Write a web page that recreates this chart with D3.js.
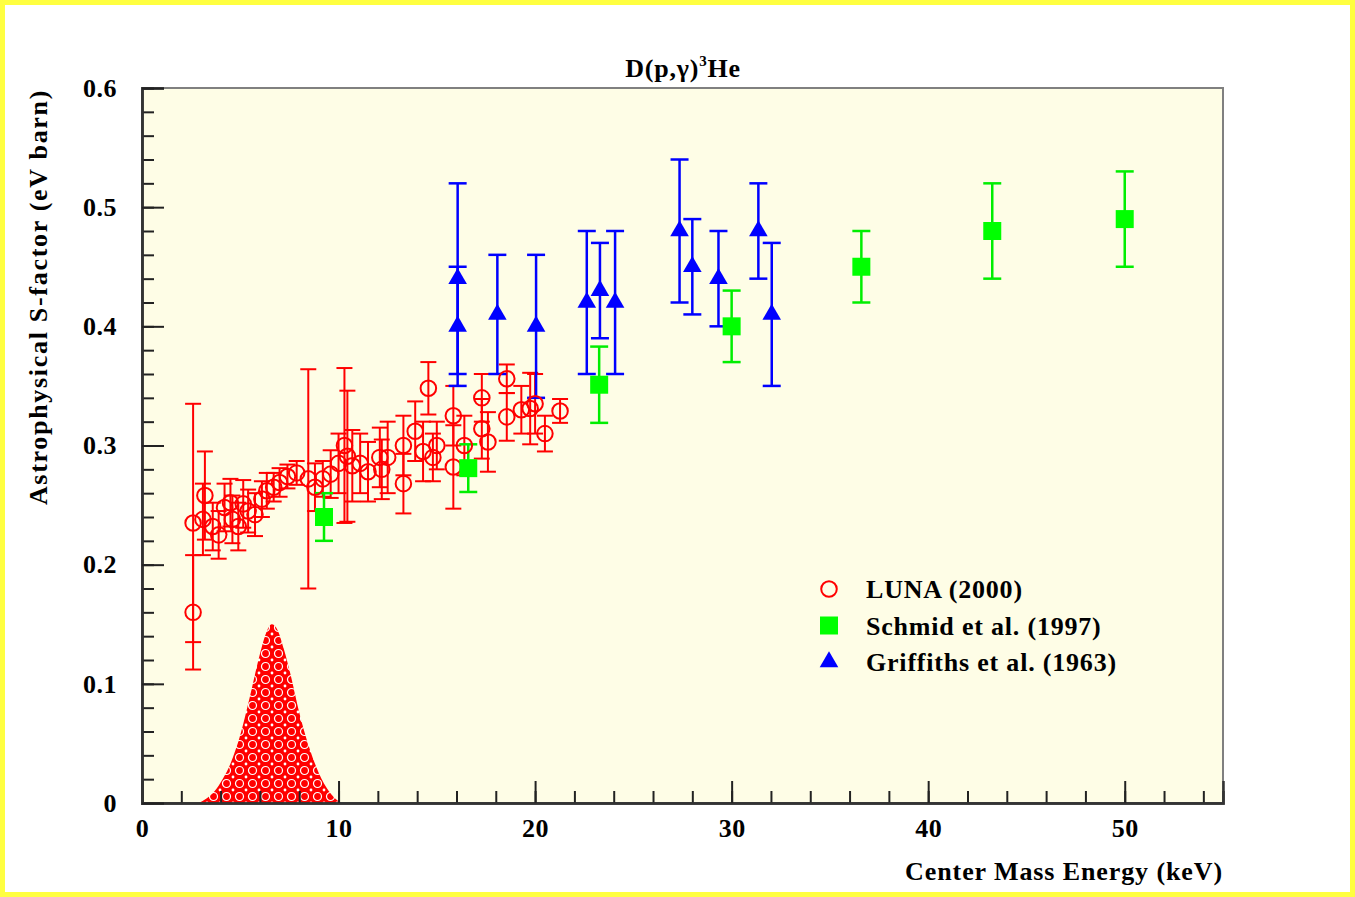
<!DOCTYPE html>
<html>
<head>
<meta charset="utf-8">
<script src="https://cdn.jsdelivr.net/npm/d3@7"></script>
<style>
  html, body { margin: 0; padding: 0; background: #fff; }
  svg text { font-family: "Liberation Serif", "DejaVu Serif", serif; font-weight: bold; fill: #000; }
</style>
</head>
<body>
<script>
/* LUNA (2000) points: energy (keV), S-factor (eV b), error */
var lunaE   = [2.6, 2.6, 3.2, 3.1, 3.6, 3.9, 4.2, 4.5, 4.6, 4.9, 5.15, 5.4, 5.75, 6.1, 6.35, 6.7, 7.0, 7.4, 7.87,
               8.46, 8.8, 9.2, 9.6, 10.0, 10.3, 10.45, 10.7, 11.1, 11.5, 12.1, 12.5, 12.2, 13.3, 13.3, 13.9, 14.3,
               14.57, 14.8, 15.0, 15.84, 15.84, 16.4, 17.29, 17.29, 17.6, 18.56, 18.56, 19.3, 19.75, 20.0, 20.5, 21.27];
var lunaS   = [0.235, 0.160, 0.258, 0.238, 0.232, 0.225, 0.248, 0.252, 0.238, 0.232, 0.251, 0.245, 0.242, 0.255, 0.262, 0.265, 0.269, 0.274, 0.277,
               0.272, 0.265, 0.272, 0.276, 0.285, 0.300, 0.291, 0.283, 0.285, 0.278, 0.290, 0.290, 0.280, 0.268, 0.300, 0.312, 0.295,
               0.348, 0.290, 0.300, 0.325, 0.282, 0.300, 0.314, 0.340, 0.303, 0.356, 0.324, 0.330, 0.331, 0.335, 0.310, 0.329];
var lunaErr = [0.100, 0.048, 0.037, 0.030, 0.020, 0.020, 0.020, 0.020, 0.020, 0.020, 0.020, 0.018, 0.018, 0.015, 0.015, 0.012, 0.012, 0.010, 0.010,
               0.092, 0.020, 0.015, 0.020, 0.025, 0.065, 0.055, 0.030, 0.025, 0.025, 0.025, 0.030, 0.025, 0.025, 0.025, 0.025, 0.025,
               0.022, 0.020, 0.020, 0.025, 0.035, 0.025, 0.025, 0.020, 0.025, 0.012, 0.020, 0.020, 0.030, 0.025, 0.015, 0.010];

/* Schmid et al. (1997) */
var schmidE   = [9.26, 16.6, 23.26, 30.0, 36.6, 43.26, 50.0];
var schmidS   = [0.240, 0.281, 0.351, 0.400, 0.450, 0.480, 0.490];
var schmidErr = [0.020, 0.020, 0.032, 0.030, 0.030, 0.040, 0.040];

/* Griffiths et al. (1963) */
var griffE   = [16.06, 16.06, 18.08, 20.05, 22.63, 23.3, 24.07, 27.35, 28.0, 29.33, 31.36, 32.04];
var griffS   = [0.440, 0.400, 0.410, 0.400, 0.420, 0.430, 0.420, 0.480, 0.450, 0.440, 0.480, 0.410];
var griffErr = [0.080, 0.050, 0.050, 0.060, 0.060, 0.040, 0.060, 0.060, 0.040, 0.040, 0.040, 0.060];

/* Gamow peak (arbitrary units, drawn on the S scale) */
var gamowE = [2.9, 3.3, 3.7, 4.1, 4.5, 5.0, 5.5, 6.0, 6.3, 6.6, 6.9, 7.2, 7.6, 8.0, 8.5, 9.0, 9.5, 10.1];
var gamowS = [0.0, 0.004, 0.010, 0.020, 0.033, 0.057, 0.090, 0.125, 0.142, 0.150, 0.145, 0.130, 0.105, 0.076, 0.047, 0.025, 0.010, 0.0];

var xMajor = [0, 10, 20, 30, 40, 50];
var yMajor = [0, 0.1, 0.2, 0.3, 0.4, 0.5, 0.6];

var legendNames = ["LUNA (2000)", "Schmid et al. (1997)", "Griffiths et al. (1963)"];

var W = 1355, H = 897;
var margin = {top: 88, right: 132, bottom: 94, left: 142},
    width = W - margin.left - margin.right,
    height = H - margin.top - margin.bottom;

var svg = d3.select("body").append("svg")
    .attr("width", W)
    .attr("height", H);

/* yellow outer frame */
svg.append("rect")
    .attr("x", 2.5).attr("y", 2.5)
    .attr("width", W - 5).attr("height", H - 5)
    .attr("fill", "#fff")
    .attr("stroke", "#ffff40")
    .attr("stroke-width", 5);

/* hatch pattern for the Gamow peak */
var defs = svg.append("defs");
var pat = defs.append("pattern")
    .attr("id", "gamowPat")
    .attr("patternUnits", "userSpaceOnUse")
    .attr("width", 13).attr("height", 13);
pat.append("rect").attr("width", 13).attr("height", 13).attr("fill", "#ff0000");
pat.append("circle").attr("cx", 6.5).attr("cy", 6.5).attr("r", 4)
    .attr("fill", "none").attr("stroke", "#fff").attr("stroke-width", 1.2);
[[0, 0], [13, 0], [0, 13], [13, 13]].forEach(function(p) {
    pat.append("circle").attr("cx", p[0]).attr("cy", p[1]).attr("r", 1.4).attr("fill", "#fff");
});

var g = svg.append("g")
    .attr("transform", "translate(" + margin.left + "," + margin.top + ")");

var x = d3.scaleLinear().domain([0, 55]).range([0, width]);
var y = d3.scaleLinear().domain([0, 0.6]).range([height, 0]);

/* plot background */
g.append("rect")
    .attr("width", width).attr("height", height)
    .attr("fill", "#fefde6")
    .attr("stroke", "#808080")
    .attr("stroke-width", 2);

/* Gamow peak */
var area = d3.area()
    .x(function(d) { return x(d[0]); })
    .y0(y(0))
    .y1(function(d) { return y(d[1]); })
    .curve(d3.curveMonotoneX);

g.append("path")
    .datum(d3.zip(gamowE, gamowS))
    .attr("d", area)
    .attr("fill", "url(#gamowPat)");

/* axes: major and minor ticks pointing inwards */
function styleAxis(sel) {
    sel.select(".domain").attr("stroke", "#333").attr("stroke-width", 2.5);
    sel.selectAll(".tick line").attr("stroke", "#222").attr("stroke-width", 2);
    sel.selectAll(".tick text")
        .style("font-family", "'Liberation Serif', serif")
        .style("font-weight", "bold")
        .style("font-size", "26px")
        .style("letter-spacing", "0.5px")
        .attr("fill", "#000");
}

g.append("g")
    .attr("transform", "translate(0," + height + ")")
    .call(d3.axisBottom(x).tickValues(d3.range(0, 55, 2)).tickSize(-12).tickFormat(""))
    .call(styleAxis);

g.append("g")
    .attr("transform", "translate(0," + height + ")")
    .call(d3.axisBottom(x).tickValues(xMajor).tickSize(-22).tickPadding(16).tickFormat(d3.format("d")))
    .call(styleAxis);

g.append("g")
    .call(d3.axisLeft(y).tickValues(d3.range(0, 0.601, 0.02)).tickSize(-12).tickFormat(""))
    .call(styleAxis);

g.append("g")
    .call(d3.axisLeft(y).tickValues(yMajor).tickSize(-22).tickPadding(25)
        .tickFormat(function(d) { return d === 0 ? "0" : d.toFixed(1); }))
    .call(styleAxis);

/* error bars */
function errorBars(E, S, err, color, sw, cap) {
    var data = d3.zip(E, S, err);
    var eb = g.append("g");
    eb.selectAll(".v").data(data).enter().append("line")
        .attr("x1", function(d) { return x(d[0]); })
        .attr("x2", function(d) { return x(d[0]); })
        .attr("y1", function(d) { return y(d[1] - d[2]); })
        .attr("y2", function(d) { return y(d[1] + d[2]); })
        .attr("stroke", color).attr("stroke-width", sw);
    [-1, 1].forEach(function(s) {
        eb.selectAll(".c" + s).data(data).enter().append("line")
            .attr("x1", function(d) { return x(d[0]) - cap; })
            .attr("x2", function(d) { return x(d[0]) + cap; })
            .attr("y1", function(d) { return y(d[1] + s * d[2]); })
            .attr("y2", function(d) { return y(d[1] + s * d[2]); })
            .attr("stroke", color).attr("stroke-width", sw);
    });
    return data;
}

var lunaData = errorBars(lunaE, lunaS, lunaErr, "#ff0000", 2, 8);
var schmidData = errorBars(schmidE, schmidS, schmidErr, "#00ee00", 2.5, 9);
var griffData = errorBars(griffE, griffS, griffErr, "#0000ff", 2.5, 9);

var circleSym = d3.symbol().type(d3.symbolCircle).size(190);
var squareSym = d3.symbol().type(d3.symbolSquare).size(324);
var triSym = d3.symbol().type(d3.symbolTriangle).size(150);

g.append("g").selectAll("path").data(lunaData).enter().append("path")
    .attr("d", circleSym)
    .attr("transform", function(d) { return "translate(" + x(d[0]) + "," + y(d[1]) + ")"; })
    .attr("fill", "none").attr("stroke", "#ff0000").attr("stroke-width", 2);

g.append("g").selectAll("path").data(schmidData).enter().append("path")
    .attr("d", squareSym)
    .attr("transform", function(d) { return "translate(" + x(d[0]) + "," + y(d[1]) + ")"; })
    .attr("fill", "#00ff00");

g.append("g").selectAll("path").data(griffData).enter().append("path")
    .attr("d", triSym)
    .attr("transform", function(d) { return "translate(" + x(d[0]) + "," + y(d[1]) + ")"; })
    .attr("fill", "#0000ff");

/* legend */
var legend = svg.append("g").attr("transform", "translate(829,589)");
var syms = [circleSym, squareSym, triSym];
legendNames.forEach(function(name, i) {
    var row = legend.append("g").attr("transform", "translate(0," + (i * 36.5) + ")");
    var p = row.append("path").attr("d", syms[i]);
    if (i === 0) p.attr("fill", "none").attr("stroke", "#ff0000").attr("stroke-width", 2);
    else p.attr("fill", i === 1 ? "#00ff00" : "#0000ff");
    row.append("text").attr("x", 37).attr("y", 9)
        .style("font-size", "26px")
        .style("letter-spacing", "0.8px")
        .text(name);
});

/* title and axis labels */
var title = svg.append("text")
    .attr("x", 683).attr("y", 77)
    .attr("text-anchor", "middle")
    .style("font-size", "26px")
    .style("letter-spacing", "0.8px");
title.append("tspan").text("D(p,\u03b3)");
title.append("tspan").attr("dy", -11).style("font-size", "15px").text("3");
title.append("tspan").attr("dy", 11).text("He");

svg.append("text")
    .attr("transform", "translate(47,297) rotate(-90)")
    .attr("text-anchor", "middle")
    .style("font-size", "26px")
    .style("letter-spacing", "1.7px")
    .text("Astrophysical S-factor (eV barn)");

svg.append("text")
    .attr("x", margin.left + width).attr("y", 880)
    .attr("text-anchor", "end")
    .style("font-size", "26px")
    .style("letter-spacing", "0.9px")
    .text("Center Mass Energy (keV)");
</script>
</body>
</html>
